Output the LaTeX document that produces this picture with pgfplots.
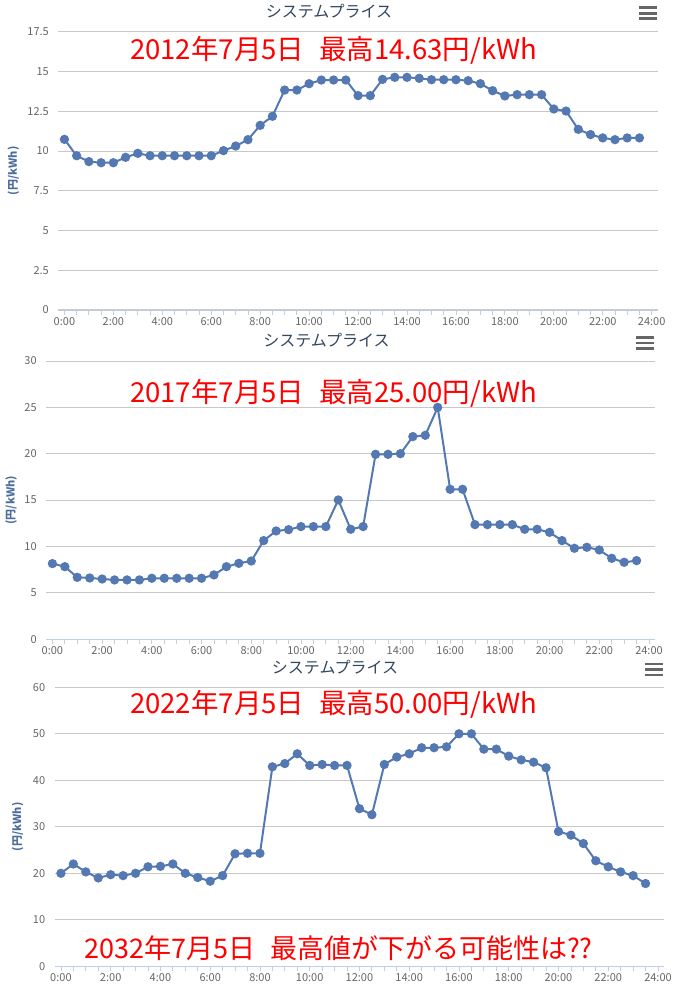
\documentclass[border=0pt]{standalone}
\usepackage{fontspec}
\setmainfont{Noto Sans CJK JP}
\usepackage{pgfplots}
\usepackage{pgfplotstable}
\pgfplotsset{compat=1.18}
\definecolor{series}{HTML}{5479B2}
\definecolor{ylab}{HTML}{4D6E9C}
\definecolor{gridc}{HTML}{C8C8C8}
\definecolor{axisc}{HTML}{C0D0E0}
\definecolor{tickc}{HTML}{666666}
\definecolor{titlec}{HTML}{33475F}
\definecolor{redc}{HTML}{FF0000}

\pgfplotstableread{
x y
0.0 10.73
0.5 9.70
1.0 9.33
1.5 9.26
2.0 9.26
2.5 9.60
3.0 9.85
3.5 9.70
4.0 9.70
4.5 9.70
5.0 9.70
5.5 9.70
6.0 9.70
6.5 10.02
7.0 10.31
7.5 10.71
8.0 11.61
8.5 12.18
9.0 13.83
9.5 13.83
10.0 14.23
10.5 14.46
11.0 14.46
11.5 14.46
12.0 13.48
12.5 13.48
13.0 14.50
13.5 14.63
14.0 14.63
14.5 14.57
15.0 14.48
15.5 14.48
16.0 14.48
16.5 14.42
17.0 14.23
17.5 13.79
18.0 13.46
18.5 13.54
19.0 13.54
19.5 13.54
20.0 12.64
20.5 12.51
21.0 11.36
21.5 11.03
22.0 10.82
22.5 10.71
23.0 10.82
23.5 10.82
}\dataA

\pgfplotstableread{
x y
0.0 8.16
0.5 7.83
1.0 6.68
1.5 6.61
2.0 6.50
2.5 6.40
3.0 6.40
3.5 6.40
4.0 6.58
4.5 6.58
5.0 6.58
5.5 6.58
6.0 6.58
6.5 6.94
7.0 7.83
7.5 8.19
8.0 8.44
8.5 10.64
9.0 11.68
9.5 11.82
10.0 12.15
10.5 12.15
11.0 12.15
11.5 15.02
12.0 11.86
12.5 12.15
13.0 19.94
13.5 19.94
14.0 20.01
14.5 21.85
15.0 21.99
15.5 25.00
16.0 16.17
16.5 16.17
17.0 12.36
17.5 12.36
18.0 12.36
18.5 12.36
19.0 11.86
19.5 11.86
20.0 11.53
20.5 10.64
21.0 9.81
21.5 9.92
22.0 9.63
22.5 8.73
23.0 8.30
23.5 8.48
}\dataB

\pgfplotstableread{
x y
0.0 20.0
0.5 22.0
1.0 20.3
1.5 19.0
2.0 19.7
2.5 19.5
3.0 20.0
3.5 21.4
4.0 21.5
4.5 22.0
5.0 20.0
5.5 19.1
6.0 18.3
6.5 19.5
7.0 24.2
7.5 24.3
8.0 24.3
8.5 42.9
9.0 43.6
9.5 45.7
10.0 43.2
10.5 43.4
11.0 43.2
11.5 43.2
12.0 33.9
12.5 32.6
13.0 43.4
13.5 45.0
14.0 45.7
14.5 47.0
15.0 47.0
15.5 47.2
16.0 50.0
16.5 50.0
17.0 46.7
17.5 46.7
18.0 45.2
18.5 44.4
19.0 43.9
19.5 42.7
20.0 29.0
20.5 28.2
21.0 26.4
21.5 22.7
22.0 21.4
22.5 20.3
23.0 19.5
23.5 17.8
}\dataC

\pgfplotsset{
  hc/.style={
    scale only axis,
    anchor=south west,
    xmin=-0.25, xmax=24.25,
    ymin=0,
    xtick={0,2,...,24},
    xticklabels={0:00,2:00,4:00,6:00,8:00,10:00,12:00,14:00,16:00,18:00,20:00,22:00,24:00},
    minor xtick={0,0.5,...,24},
    axis x line*=bottom,
    axis y line*=left,
    x axis line style={-, draw=axisc, line width=1bp},
    y axis line style={draw=none},
    tick align=outside,
    major tick length=5bp,
    minor tick length=5bp,
    xtick style={draw=axisc, line width=0.8bp},
    minor x tick style={draw=axisc, line width=0.8bp},
    ytick style={draw=none},
    ymajorgrids,
    major grid style={draw=gridc, line width=0.9bp},
    /pgf/number format/assume math mode=true,
    tick label style={font=\fontsize{11bp}{13bp}\selectfont, text=tickc},
    yticklabel style={xshift=-1bp},
    xticklabel style={yshift=1bp},
    ylabel={(円/kWh)},
    ylabel style={at={(axis description cs:0,0.5)}, anchor=center, font=\bfseries\fontsize{11bp}{13bp}\selectfont, text=ylab},
    clip=false,
  },
  hcplot/.style={color=series, line width=2bp, mark=*, mark size=3.6bp, mark options={solid, fill=series, draw=series}},
}

\newcommand{\hamb}[2]{%
  \draw[color=tickc, line width=2.8bp, line cap=butt] (#1bp,#2bp+5.5bp) -- ++(18bp,0);
  \draw[color=tickc, line width=2.8bp, line cap=butt] (#1bp,#2bp) -- ++(18bp,0);
  \draw[color=tickc, line width=2.8bp, line cap=butt] (#1bp,#2bp-5.5bp) -- ++(18bp,0);
}
\newcommand{\redfont}{\fontsize{27.5bp}{29bp}\selectfont}
\newcommand{\redfontb}{\fontsize{27bp}{29bp}\selectfont}
\newcommand{\gap}{\hspace{15bp}}

\begin{document}
\begin{tikzpicture}
\path[use as bounding box] (0,0) rectangle (673bp,987bp);

% Chart 1
\begin{axis}[hc, at={(58.3bp,677bp)}, width=599.5bp, height=278.3bp,
  ymax=17.5, ytick={0,2.5,...,17.5},
  ylabel style={yshift=45bp}]
\addplot[hcplot] table[x=x,y=y] {\dataA};
\end{axis}
\node[font=\fontsize{16bp}{18bp}\selectfont, text=titlec] at (329bp,975.3bp) {システムプライス};
\hamb{639}{973.7}
\node[font=\redfont, text=redc, anchor=west, inner sep=0pt] at (130bp,937bp) {2012年7月5日\gap 最高14.63円/kWh};

% Chart 2
\begin{axis}[hc, at={(46.2bp,347.7bp)}, width=609bp, height=278.3bp,
  ymax=30, ytick={0,5,...,30},
  ylabel style={yshift=35bp}]
\addplot[hcplot] table[x=x,y=y] {\dataB};
\end{axis}
\node[font=\fontsize{16bp}{18bp}\selectfont, text=titlec] at (326.5bp,647bp) {システムプライス};
\hamb{636}{644}
\node[font=\redfont, text=redc, anchor=west, inner sep=0pt] at (130bp,594bp) {2017年7月5日\gap 最高25.00円/kWh};

% Chart 3
\begin{axis}[hc, at={(54.7bp,20.7bp)}, width=609.5bp, height=279bp,
  ymax=60, ytick={0,10,...,60},
  ylabel style={yshift=37bp}]
\addplot[hcplot] table[x=x,y=y] {\dataC};
\end{axis}
\node[font=\fontsize{16bp}{18bp}\selectfont, text=titlec] at (335bp,319.3bp) {システムプライス};
\hamb{645}{317.5}
\node[font=\redfont, text=redc, anchor=west, inner sep=0pt] at (130bp,282.5bp) {2022年7月5日\gap 最高50.00円/kWh};
\node[font=\redfontb, text=redc, anchor=west, inner sep=0pt] at (84bp,39.3bp) {2032年7月5日\gap 最高値が下がる可能性は??};
\end{tikzpicture}
\end{document}
